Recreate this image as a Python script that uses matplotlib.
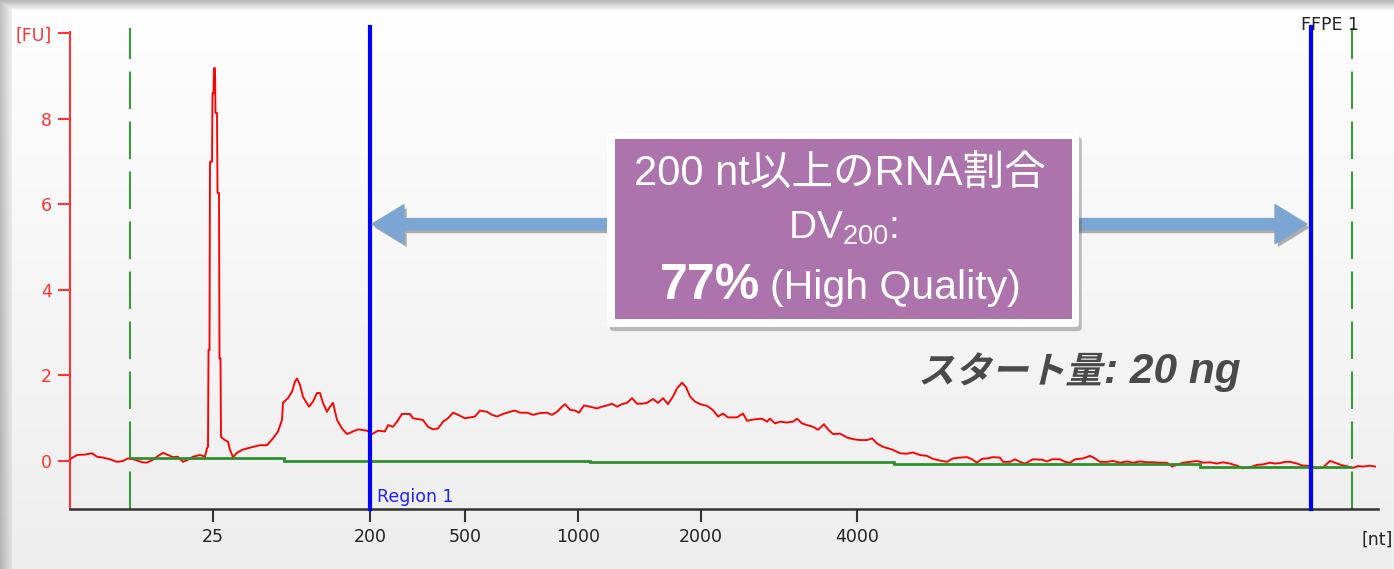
import matplotlib
matplotlib.use("Agg")
import matplotlib.pyplot as plt
import matplotlib.patheffects as pe
import numpy as np
from matplotlib.patches import FancyArrowPatch, FancyBboxPatch, Rectangle, PathPatch
from matplotlib.textpath import TextPath
from matplotlib.font_manager import FontProperties
from matplotlib.transforms import Affine2D

# electropherogram trace: (migration position, fluorescence [FU])
trace = [
    (0, 0.04), (7, 0.14), (15, 0.15), (22, 0.18), (27, 0.10), (33, 0.08), (40, 0.04),
    (47, -0.02), (53, 0.00), (58, 0.06), (65, 0.03), (72, -0.03), (77, -0.04), (82, 0.02),
    (87, 0.10), (93, 0.19), (98, 0.14), (103, 0.09), (108, 0.10), (113, -0.02), (118, 0.03),
    (123, 0.10), (130, 0.14), (135, 0.10), (137, 0.30), (138, 0.33), (138.5, 2.6), (139.5, 2.6),
    (140, 7.0), (142, 7.0), (142.5, 8.6), (143.5, 8.6), (144, 9.19), (145, 9.19), (145.5, 8.14),
    (147, 8.14), (147.5, 6.27), (149, 6.27), (149.5, 2.4), (150.5, 2.4), (151, 0.56), (155, 0.49),
    (158, 0.45), (160, 0.26), (163, 0.09), (167, 0.19), (172, 0.26), (178, 0.30), (183, 0.33),
    (190, 0.37), (197, 0.37), (203, 0.53), (208, 0.69), (212, 0.96), (213, 1.36), (218, 1.47),
    (222, 1.62), (225, 1.86), (227, 1.93), (230, 1.78), (233, 1.50), (239, 1.27), (243, 1.39),
    (247, 1.59), (250, 1.59), (253, 1.36), (257, 1.15), (260, 1.27), (263, 1.36), (267, 0.96),
    (272, 0.76), (277, 0.63), (283, 0.69), (288, 0.74), (297, 0.71), (302, 0.63), (308, 0.71),
    (315, 0.69), (318, 0.84), (323, 0.80), (327, 0.92), (332, 1.10), (340, 1.10), (343, 1.00),
    (348, 0.98), (353, 0.96), (358, 0.80), (363, 0.74), (368, 0.76), (373, 0.92), (378, 1.00),
    (383, 1.13), (388, 1.08), (395, 1.00), (400, 1.02), (405, 1.04), (410, 1.18), (417, 1.15),
    (422, 1.08), (427, 1.04), (433, 1.10), (440, 1.15), (445, 1.18), (450, 1.13), (457, 1.13),
    (463, 1.08), (470, 1.12), (477, 1.13), (482, 1.08), (487, 1.15), (492, 1.27), (495, 1.33),
    (500, 1.20), (505, 1.18), (509, 1.13), (514, 1.30), (520, 1.27), (527, 1.23), (532, 1.27),
    (537, 1.30), (542, 1.34), (547, 1.27), (552, 1.33), (557, 1.36), (562, 1.47), (567, 1.34),
    (572, 1.34), (577, 1.36), (583, 1.45), (588, 1.36), (593, 1.47), (598, 1.33), (603, 1.51),
    (607, 1.70), (612, 1.83), (616, 1.73), (620, 1.51), (625, 1.39), (630, 1.33), (637, 1.29),
    (643, 1.19), (648, 1.04), (653, 1.11), (658, 1.02), (667, 1.02), (673, 1.11), (677, 0.94),
    (683, 0.97), (692, 0.99), (697, 0.92), (700, 0.99), (705, 0.88), (710, 0.92), (717, 0.90),
    (723, 0.92), (727, 0.99), (732, 0.88), (737, 0.84), (743, 0.80), (748, 0.73), (754, 0.86),
    (758, 0.74), (763, 0.63), (770, 0.64), (777, 0.55), (783, 0.51), (790, 0.49), (797, 0.49),
    (802, 0.53), (807, 0.41), (813, 0.33), (822, 0.27), (830, 0.18), (837, 0.17), (843, 0.20),
    (850, 0.14), (857, 0.12), (863, 0.05), (870, 0.01), (877, -0.02), (883, 0.06), (890, 0.08),
    (897, 0.09), (902, 0.04), (907, -0.04), (912, 0.05), (917, 0.06), (923, 0.09), (930, 0.08),
    (933, -0.02), (940, -0.02), (945, 0.04), (950, -0.02), (955, -0.06), (963, 0.04), (972, 0.03),
    (977, -0.01), (982, 0.04), (990, 0.04), (995, -0.02), (1000, -0.04), (1005, 0.04), (1013, 0.06),
    (1020, 0.12), (1025, 0.06), (1030, -0.02), (1037, -0.02), (1043, 0.00), (1050, -0.04),
    (1057, -0.01), (1063, -0.04), (1070, -0.01), (1077, -0.03), (1083, -0.03), (1090, -0.04),
    (1097, -0.04), (1102, -0.13), (1107, -0.09), (1113, -0.04), (1120, -0.02), (1127, 0.00),
    (1133, -0.04), (1140, -0.03), (1147, -0.06), (1153, -0.03), (1160, -0.06), (1167, -0.11),
    (1173, -0.17), (1180, -0.15), (1187, -0.09), (1193, -0.08), (1200, -0.04), (1205, -0.06),
    (1210, -0.05), (1215, -0.02), (1220, -0.02), (1227, -0.06), (1233, -0.11), (1240, -0.11),
    (1247, -0.17), (1253, -0.15), (1260, 0.00), (1265, -0.04), (1272, -0.10), (1278, -0.13),
    (1283, -0.16), (1288, -0.12), (1293, -0.13), (1300, -0.11), (1305, -0.13),
]

# baseline steps
base_edges = [60, 214, 520, 824, 1130, 1282]
base_vals = [0.06, 0.01, -0.03, -0.08, -0.13]

# size ladder
size_pos = [143, 300, 395, 508, 631, 787]
size_labels = ["25", "200", "500", "1000", "2000", "4000"]

marker_pos = [60, 1282]          # lower / upper marker
region_lo, region_hi = 300, 1241  # Region 1 (200 nt and up)

fu_ticks = [0, 2, 4, 6, 8, 10]
fu_labels = ["0", "2", "4", "6", "8", "[FU]"]

W, H = 1394, 569
fig = plt.figure(figsize=(W / 100, H / 100), dpi=100)

# window background with a soft frame shadow
yy = np.arange(H)[:, None] * np.ones((1, W))
xx = np.ones((H, 1)) * np.arange(W)[None, :]
bg = 0.998 - 0.065 * yy / H
shade = np.minimum(np.where(yy < 10, 0.72 + 0.26 * yy / 10, 1.0),
                   np.where(xx < 12, 0.76 + 0.2 * xx / 12, 1.0))
bg = np.clip(bg * shade, 0, 1)
fig.figimage(np.dstack([bg, bg, bg]), xo=0, yo=0, origin="upper", zorder=-10)

ax = fig.add_axes([70 / W, 60 / H, 1308 / W, 477 / H])
ax.patch.set_alpha(0)
ax.set_xlim(0, 1308)
ax.set_ylim(-1.123, 10.035)

mig, fu = np.array(trace).T
ax.plot(mig, fu, color="#ff0000", lw=1.35, zorder=3)
ax.stairs(base_vals, base_edges, baseline=None, color="#2f8f2f", lw=2.0, zorder=4)

for x in marker_pos:
    ax.axvline(x, ymin=0, ymax=1.008, color="#3a9a3a", lw=1.5, dashes=(18, 6),
               clip_on=False, zorder=2)
for x in (region_lo, region_hi):
    ax.axvline(x, ymin=0, ymax=1.0105, color="#0000ff", lw=3, clip_on=False, zorder=5)

ax.set_xticks(size_pos)
ax.set_xticklabels(size_labels)
ax.set_yticks(fu_ticks)
ax.set_yticklabels(fu_labels)
ax.tick_params(axis="y", colors="#ff3333", length=9, width=1.5, pad=4, labelsize=12.5)
ax.tick_params(axis="x", colors="#333333", labelcolor="#222222", length=9, width=1.5,
               pad=5, labelsize=12.5)
for s in ("top", "right"):
    ax.spines[s].set_visible(False)
ax.spines["left"].set_color("#ff3333")
ax.spines["left"].set_linewidth(1.5)
ax.spines["bottom"].set_color("#333333")
ax.spines["bottom"].set_linewidth(1.8)

ax.annotate("Region 1", xy=(region_lo, 0), xycoords=("data", "axes fraction"),
            xytext=(5, 2.5), textcoords="offset points", ha="left", va="bottom",
            color="#2020ff", fontsize=12.5)
ax.annotate("FFPE 1", xy=(region_hi, 1), xycoords=("data", "axes fraction"),
            xytext=(-7, 5), textcoords="offset points", ha="left", va="center",
            color="#222222", fontsize=12.5, annotation_clip=False)
fig.text(1377 / W, 1 - 540 / H, "[nt]", ha="center", va="center", fontsize=12.5,
         color="#222222")

# double arrow spanning Region 1
arrow_y = 5.54
arrow_fx = [pe.SimplePatchShadow(offset=(2, -2.5), shadow_rgbFace="#000000", alpha=0.3),
            pe.Normal()]
for start, tip in ((620, region_lo + 2), (920, region_hi - 4)):
    ax.add_patch(FancyArrowPatch((start, arrow_y), (tip, arrow_y),
                                 arrowstyle="simple,head_length=23,head_width=28,tail_width=8",
                                 mutation_scale=1, color="#7ba6d3", shrinkA=0, shrinkB=0,
                                 path_effects=arrow_fx, zorder=6))

# overlay in pixel coordinates for the callouts
ov = fig.add_axes([0, 0, 1, 1])
ov.set_xlim(0, W)
ov.set_ylim(H, 0)
ov.axis("off")

ov.add_patch(FancyBboxPatch((607, 133), 472, 194, boxstyle="round,pad=0,rounding_size=4",
                            fc="white", ec="none",
                            path_effects=[pe.SimplePatchShadow(offset=(2, -3), alpha=0.35),
                                          pe.Normal()]))
ov.add_patch(Rectangle((615, 139), 457, 180, fc="#ac73ac", ec="none"))

jp = ["Liberation Sans", "Noto Sans CJK JP"]
ov.text(840, 186, "200 nt以上のRNA割合", ha="center", va="baseline", fontsize=30,
        color="white", family=jp)
ov.text(843, 239, r"DV$_\mathregular{200}$:", ha="center", va="baseline", fontsize=28,
        color="white", family=jp)
ov.text(760, 299, "77%", ha="right", va="baseline", fontsize=36, fontweight="bold",
        color="white", family=jp)
ov.text(770, 299, "(High Quality)", ha="left", va="baseline", fontsize=29.5,
        color="white", family=jp)

# slanted heavy caption for the input amount
fp = FontProperties(family="Noto Sans CJK JP", weight="bold")
tp = TextPath((0, 0), "スタート量", size=26.5, prop=fp)
tr = Affine2D().skew_deg(13, 0).scale(1 / 72).translate(918 / 100, (H - 383) / 100) \
    + fig.dpi_scale_trans
fig.add_artist(PathPatch(tp, transform=tr, fc="#4a4a4a", ec="none"))
ov.text(1104, 383, ": 20 ng", ha="left", va="baseline", fontsize=30.5, fontweight="bold",
        fontstyle="italic", family="Liberation Sans", color="#4a4a4a")

fig.savefig("out.png", dpi=100)
